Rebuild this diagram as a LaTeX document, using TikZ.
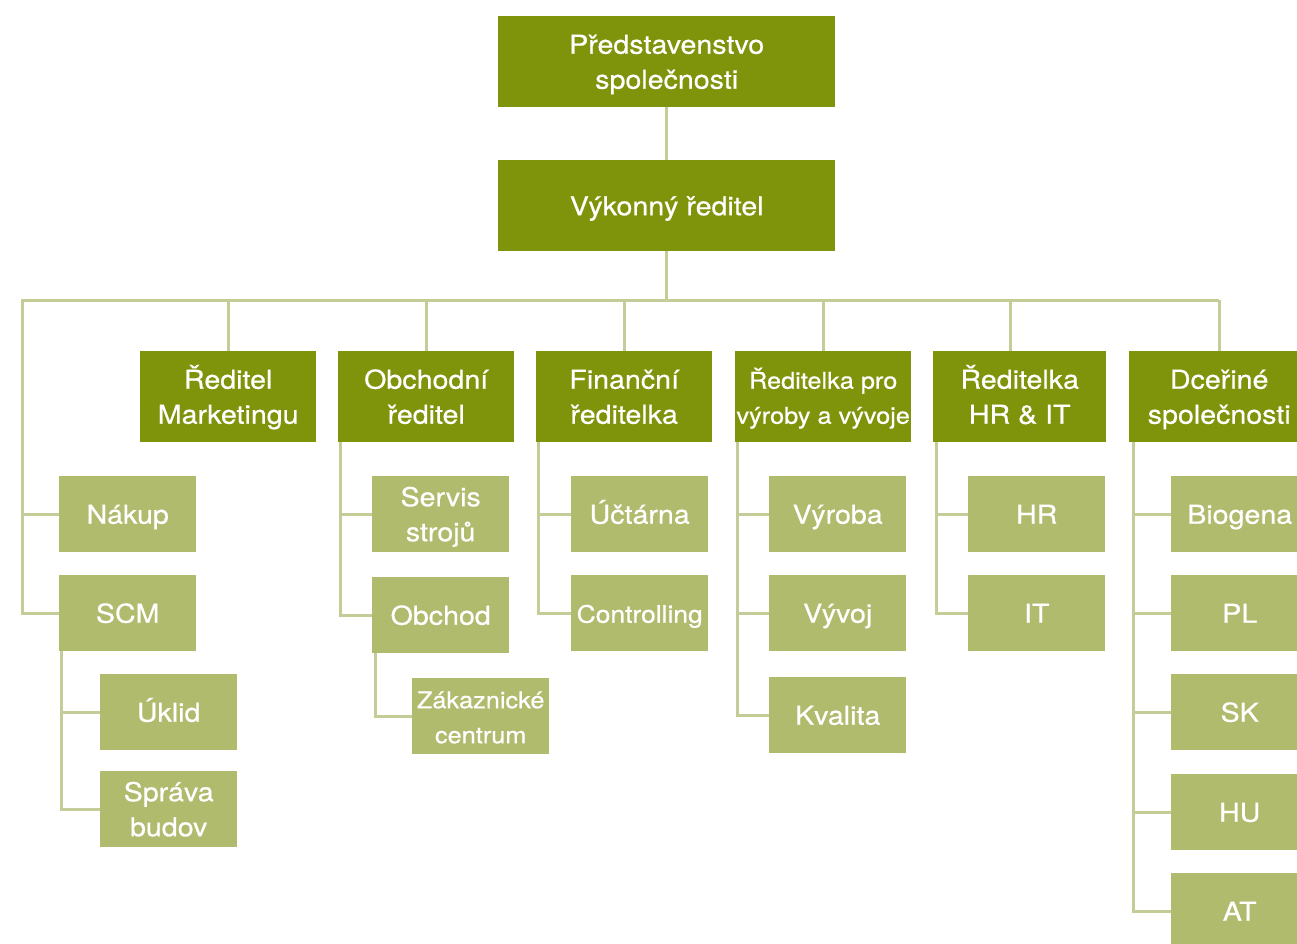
\documentclass[tikz,border=0pt]{standalone}
\usepackage{fontspec}
\setmainfont{TeX Gyre Heros}[FakeStretch=1.1, FakeBold=0.6]
\definecolor{topgreen}{HTML}{7F940B}
\definecolor{subgreen}{HTML}{B1BB6E}
\definecolor{linkgreen}{HTML}{C4CC98}
\begin{document}
\begin{tikzpicture}[x=1pt,y=-1pt,
  % invisible struts give every label the same vertical extent
  base/.style={anchor=north west, inner sep=0pt, align=center, text=white,
    font=\fontsize{26}{35}\selectfont,
    execute at begin node={\rule[-8pt]{0pt}{35pt}}},
  twoline/.style={execute at begin node={\rule[-8pt]{0pt}{70pt}}},
  head/.style={base, fill=topgreen},
  unit/.style={base, fill=subgreen},
  link/.style={draw=linkgreen, line width=3pt}]
\clip (0,0) rectangle (1297,943);
\fill[white] (0,0) rectangle (1297,943);

% top management
\node[head, twoline, minimum width=337pt, minimum height=91pt] (board) at (498,16) {Představenstvo\\společnosti};
\node[head, minimum width=337pt, minimum height=91pt] (ceo) at (498,160) {Výkonný ředitel};

% directors
\tikzset{dir/.style={head, twoline, minimum width=176pt, minimum height=91pt}}
\node[dir] (mkt) at (140,351) {Ředitel\\Marketingu};
\node[dir] (sales) at (338,351) {Obchodní\\ředitel};
\node[dir] (fin) at (536,351) {Finanční\\ředitelka};
\node[dir, font=\fontsize{23}{35}\selectfont] (prod) at (735,351) {Ředitelka pro\\výroby a vývoje};
\node[dir, minimum width=173pt] (hrit) at (933,351) {Ředitelka\\HR \& IT};
\node[dir, minimum width=180pt] (subs) at (1129,351) {Dceřiné\\společnosti};

% departments
\tikzset{dept/.style={unit, minimum width=137pt, minimum height=76pt}}
\node[dept] (buy) at (59,476) {Nákup};
\node[dept] (scm) at (59,575) {SCM};
\node[dept] (clean) at (100,674) {Úklid};
\node[dept, twoline] (fac) at (100,771) {Správa\\budov};

\node[dept, twoline] (service) at (372,476) {Servis\\strojů};
\node[dept] (trade) at (372,577) {Obchod};
\node[dept, twoline, font=\fontsize{23}{35}\selectfont] (care) at (412,678) {Zákaznické\\centrum};

\node[dept] (acct) at (571,476) {Účtárna};
\node[dept, font=\fontsize{24}{35}\selectfont] (ctrl) at (571,575) {Controlling};

\node[dept] (make) at (769,476) {Výroba};
\node[dept] (dev) at (769,575) {Vývoj};
\node[dept] (qa) at (769,677) {Kvalita};

\node[dept] (hr) at (968,476) {HR};
\node[dept] (it) at (968,575) {IT};

\node[dept] (bio) at (1171,476) {Biogena};
\node[dept] (pl) at (1171,575) {PL};
\node[dept] (sk) at (1171,674) {SK};
\node[dept] (hu) at (1171,774) {HU};
\node[dept] (at) at (1171,873) {AT};

% connectors
\coordinate (busL) at (22,300);
\coordinate (busR) at (1219,300);
\draw[link] (board.south) -- (ceo.north);
\draw[link] (ceo.south) -- (ceo.south |- busL);
\draw[link] (busR) -- (busL) |- (scm.west);
\draw[link] (busL |- buy.west) -- (buy.west);
\draw[link] (mkt.north) -- (mkt.north |- busL);
\draw[link] (sales.north) -- (sales.north |- busL);
\draw[link] (fin.north) -- (fin.north |- busL);
\draw[link] (prod.north) -- (prod.north |- busL);
\draw[link] ([xshift=-9pt]hrit.north) -- ([xshift=-9pt]hrit.north |- busL);
\draw[link] (subs.north) -- (subs.north |- busL);

\draw[link] ([xshift=2pt]scm.south west) |- (clean.west);
\draw[link] ([xshift=2pt]scm.south west) |- (fac.west);

\draw[link] ([xshift=2pt]sales.south west) |- (service.west);
\draw[link] ([xshift=2pt]sales.south west) |- (trade.west);
\draw[link] ([xshift=3pt]trade.south west) |- (care.west);

\draw[link] ([xshift=2pt]fin.south west) |- (acct.west);
\draw[link] ([xshift=2pt]fin.south west) |- (ctrl.west);

\draw[link] ([xshift=2pt]prod.south west) |- (make.west);
\draw[link] ([xshift=2pt]prod.south west) |- (dev.west);
\draw[link] ([xshift=2pt]prod.south west) |- (qa.west);

\draw[link] ([xshift=3pt]hrit.south west) |- (hr.west);
\draw[link] ([xshift=3pt]hrit.south west) |- (it.west);

\draw[link] ([xshift=4pt]subs.south west) |- (bio.west);
\draw[link] ([xshift=4pt]subs.south west) |- (pl.west);
\draw[link] ([xshift=4pt]subs.south west) |- (sk.west);
\draw[link] ([xshift=4pt]subs.south west) |- (hu.west);
\draw[link] ([xshift=4pt]subs.south west) |- (at.west);
\end{tikzpicture}
\end{document}
